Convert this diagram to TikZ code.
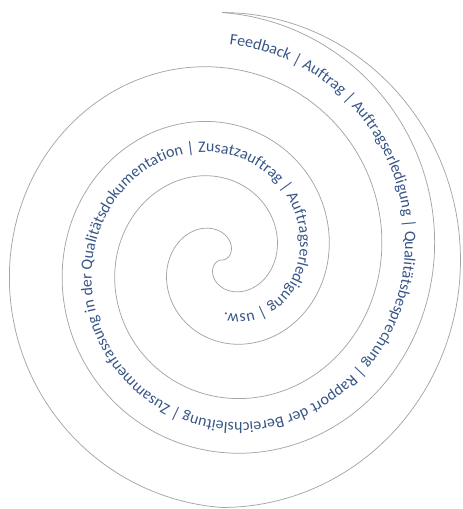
\documentclass[tikz,border=0pt]{standalone}
\usepackage{fontspec}
\setmainfont{Carlito}
\usetikzlibrary{decorations.text}
\definecolor{linegray}{RGB}{165,165,165}
\definecolor{textblue}{RGB}{55,85,135}
\newcommand\spiralfont{\fontsize{16pt}{19pt}\selectfont}
\begin{document}
\begin{tikzpicture}[x=1pt,y=1pt,
  spiralline/.style={draw=linegray, line width=0.75pt, line join=round}]
\useasboundingbox (0,0) rectangle (463,-509);
\coordinate (centre) at (222,-260);
% arm B
\path[spiralline] plot[domain=0:810, samples=400]
  ({222+53*(\x/180)*cos(\x)},{-260+55*(\x/180)*sin(\x)});
% arm A
\path[spiralline] plot[domain=0:990, samples=480]
  ({222-53*min(\x/180,4.5)*cos(\x)},{-260-55*min(\x/180,4.5)*sin(\x)});
% text along the band
\path[decorate, decoration={text along path, text format delimiters={[}{]},
  text color=textblue,
  text={[\spiralfont]Feedback | Auftrag | Auftragserledigung | Qualitätsbesprechung | Rapport der Bereichsleitung | Zusammenfassung in der Qualitätsdokumentation | Zusatzauftrag | Auftragserledigung | usw.}}]
  plot[domain=0:600, samples=330]
  ({222-53*((628-\x)/180+0.44)*cos(628-\x)},{-260-55*((628-\x)/180+0.44)*sin(628-\x)});
\end{tikzpicture}
\end{document}
